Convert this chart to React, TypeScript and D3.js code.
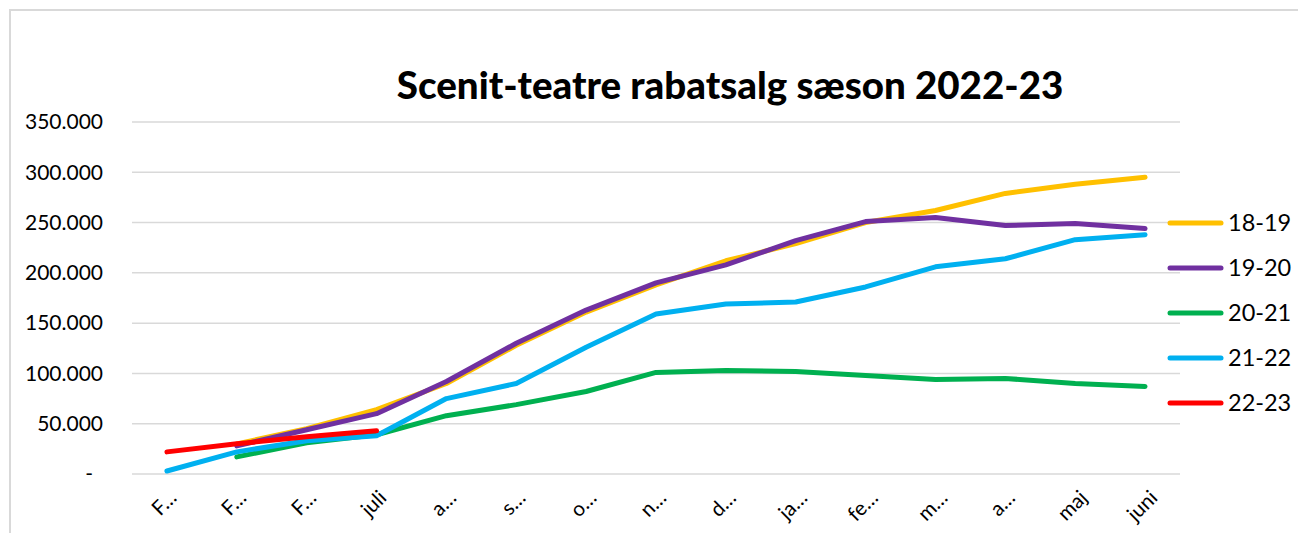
import React, { useEffect, useRef } from 'react';
import * as d3 from 'd3';

const months = ['F…', 'F…', 'F…', 'juli', 'a…', 's…', 'o…', 'n…', 'd…', 'ja…', 'fe…', 'm…', 'a…', 'maj', 'juni'];

// null = no value for that month
const s1819 = [null, 30000, 45000, 64000, 90000, 128000, 161000, 188000, 212000, 229000, 250000, 262000, 279000, 288000, 295000];
const s1920 = [null, 28000, 44000, 60000, 92000, 130000, 163000, 190000, 208000, 232000, 251000, 255000, 247000, 249000, 244000];
const s2021 = [null, 17000, 31000, 39000, 58000, 69000, 82000, 101000, 103000, 102000, 98000, 94000, 95000, 90000, 87000];
const s2122 = [3000, 22000, 33000, 38000, 75000, 90000, 126000, 159000, 169000, 171000, 186000, 206000, 214000, 233000, 238000];
const s2223 = [22000, 30000, 37000, 43000, null, null, null, null, null, null, null, null, null, null, null];

const seriesNames = ['18-19', '19-20', '20-21', '21-22', '22-23'];
const seriesColors = ['#FFC000', '#7030A0', '#00B050', '#00B0F0', '#FF0000'];
const yTicks = [0, 50000, 100000, 150000, 200000, 250000, 300000, 350000];

const FONT = 'Lato, "Open Sans", sans-serif';

export default function App() {
  const ref = useRef<SVGSVGElement>(null);

  useEffect(() => {
    const W = 1298, H = 533;
    const m = { top: 122, left: 132, right: 1180, bottom: 474 };
    const all = [s1819, s1920, s2021, s2122, s2223];

    const svg = d3.select(ref.current);
    svg.selectAll('*').remove();

    svg.append('rect').attr('width', W).attr('height', H).attr('fill', '#fff');
    // chart border (only left/top visible)
    svg.append('path')
      .attr('d', `M10,${H + 5}V10H${W + 5}`)
      .attr('fill', 'none')
      .attr('stroke', '#d9d9d9')
      .attr('stroke-width', 2);

    const x = d3.scaleBand().domain(months.map((_, i) => String(i))).range([m.left, m.right]);
    const xc = (i: number) => (x(String(i)) as number) + x.bandwidth() / 2;
    const y = d3.scaleLinear().domain([0, 350000]).range([m.bottom, m.top]);

    // gridlines
    svg.append('g').selectAll('line')
      .data(yTicks)
      .enter().append('line')
      .attr('x1', m.left).attr('x2', m.right)
      .attr('y1', d => y(d)).attr('y2', d => y(d))
      .attr('stroke', '#d9d9d9')
      .attr('stroke-width', 1.5);

    // y labels
    svg.append('g').selectAll('text')
      .data(yTicks)
      .enter().append('text')
      .attr('x', d => d === 0 ? 93 : 103)
      .attr('y', d => y(d))
      .attr('dy', '0.35em')
      .attr('text-anchor', 'end')
      .attr('font-family', FONT)
      .attr('font-size', 21)
      .attr('fill', '#000')
      .text(d => d === 0 ? '-' : d3.format(',')(d).replace(/,/g, '.'));

    // x labels, rotated -45 and centred under tick
    const xl = svg.append('g');
    months.forEach((t, i) => {
      const txt = xl.append('text')
        .attr('font-family', FONT)
        .attr('font-size', 20.5)
        .attr('fill', '#000')
        .attr('text-anchor', 'middle')
        .text(t);
      const w = (txt.node() as SVGTextElement).getComputedTextLength();
      const cx = xc(i) - 3;
      const cy = 488 + w * 0.354 + 6;
      txt.attr('transform', `translate(${cx},${cy}) rotate(-45)`).attr('dy', '0.35em');
    });

    // lines
    const line = d3.line<number | null>()
      .defined(d => d != null)
      .x((_, i) => xc(i))
      .y(d => y(d as number));

    all.forEach((s, k) => {
      svg.append('path')
        .datum(s)
        .attr('d', line)
        .attr('fill', 'none')
        .attr('stroke', seriesColors[k])
        .attr('stroke-width', 5)
        .attr('stroke-linecap', 'round')
        .attr('stroke-linejoin', 'round');
    });

    // title
    svg.append('text')
      .attr('x', 730)
      .attr('y', 99)
      .attr('text-anchor', 'middle')
      .attr('font-family', FONT)
      .attr('font-weight', 900)
      .attr('font-size', 38.5)
      .attr('fill', '#000')
      .text('Scenit-teatre rabatsalg sæson 2022-23');

    // legend
    const lg = svg.append('g');
    seriesNames.forEach((n, k) => {
      const ly = 223 + k * 45;
      lg.append('line')
        .attr('x1', 1170).attr('x2', 1221)
        .attr('y1', ly).attr('y2', ly)
        .attr('stroke', seriesColors[k])
        .attr('stroke-width', 5)
        .attr('stroke-linecap', 'round');
      lg.append('text')
        .attr('x', 1228).attr('y', ly)
        .attr('dy', '0.35em')
        .attr('font-family', FONT)
        .attr('font-size', 23.5)
        .attr('fill', '#000')
        .text(n);
    });
  }, []);

  return (
    <div>
      <svg ref={ref} width={1298} height={533} style={{ display: 'block', position: 'fixed', left: 0, top: 0 }} />
    </div>
  );
}
